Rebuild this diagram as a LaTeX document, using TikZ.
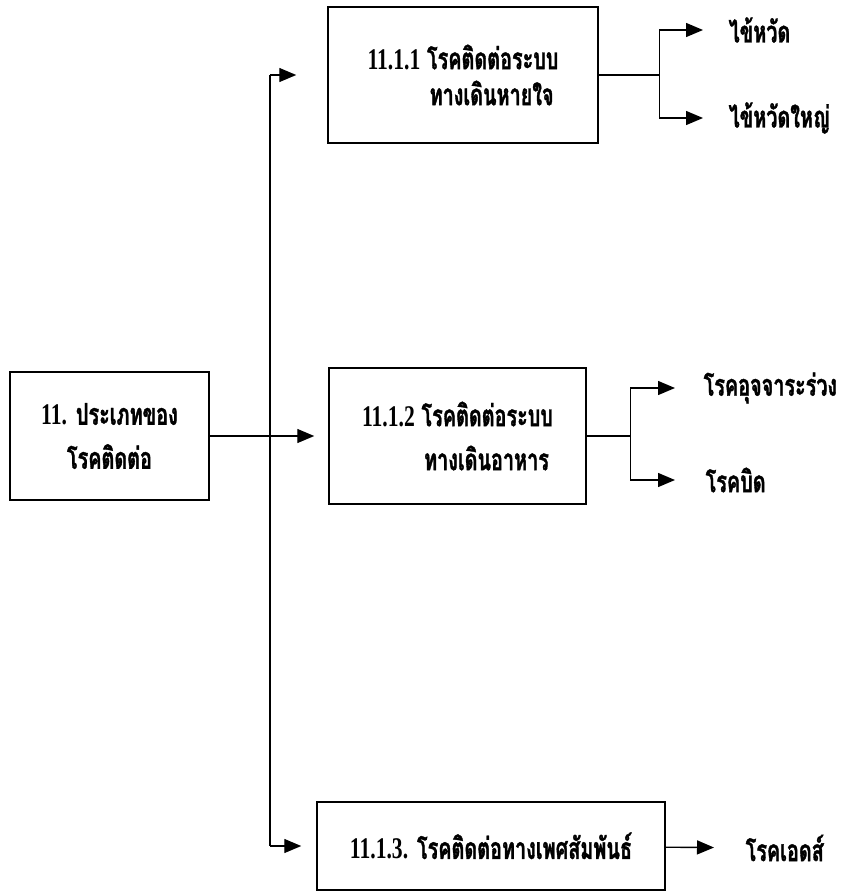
\documentclass[tikz,border=0pt]{standalone}
\usepackage{fontspec}
\newfontfamily\thaifont[Script=Thai,FakeStretch=0.66,BoldFeatures={FakeBold=1.2}]{Loma}
\newfontfamily\numfont[FakeStretch=0.72]{Liberation Serif}
\newcommand\secno[1]{{\numfont #1}}
\usetikzlibrary{arrows.meta}
\begin{document}
\begin{tikzpicture}[x=1pt, y=-1pt, line width=1.4pt,
  every node/.style={font=\fontsize{30pt}{44pt}\selectfont\bfseries\thaifont},
  box/.style={draw, line width=1.5pt, align=left, inner sep=0pt},
  lbl/.style={anchor=west, inner sep=0pt},
  arr/.style={-{Triangle[length=17pt,width=14pt]}}]
\useasboundingbox (0,0) rectangle (855,892);
% boxes
\node[box, align=center, minimum width=199pt, minimum height=128pt] (main) at (109.5,436) {\secno{11.} ประเภทของ\\โรคติดต่อ};
\node[box, minimum width=270pt, minimum height=136pt, font=\fontsize{30pt}{36pt}\selectfont\bfseries\thaifont] (resp) at (463,75) {\secno{11.1.1} โรคติดต่อระบบ\\\hspace*{62pt}ทางเดินหายใจ};
\node[box, minimum width=257pt, minimum height=136pt] (dige) at (457.5,436) {\secno{11.1.2} โรคติดต่อระบบ\\\hspace*{62pt}ทางเดินอาหาร};
\node[box, minimum width=348pt, minimum height=88pt] (sexd) at (491,846) {\secno{11.1.3.} โรคติดต่อทางเพศสัมพันธ์};
% leaves
\node[lbl] (cold) at (728,30) {ไข้หวัด};
\node[lbl] (flu) at (728,118) {ไข้หวัดใหญ่};
\node[lbl] (diarr) at (703,388) {โรคอุจจาระร่วง};
\node[lbl] (dysen) at (705,480) {โรคบิด};
\node[lbl] (aids) at (745,848) {โรคเอดส์};
\coordinate (tk) at (270,436);
\coordinate (fk1) at ([xshift=61pt]resp.east);
\coordinate (fk2) at ([xshift=44pt]dige.east);
% trunk
\draw (tk |- resp.west) -- (tk |- sexd.west);
\draw[arr, shorten >=31pt] (tk |- resp.west) -- (resp.west);
\draw[arr, shorten >=14pt] (main) -- (dige);
\draw[arr, shorten >=15pt] (tk |- sexd.west) -- (sexd.west);
% branches
\draw (resp.east) -- (fk1);
\draw[arr, shorten >=25pt] (fk1) |- (cold.west);
\draw[arr, shorten >=25pt] (fk1) |- (flu.west);
\draw (dige.east) -- (fk2);
\draw[arr, shorten >=28pt] (fk2) |- (diarr.west);
\draw[arr, shorten >=30pt] (fk2) |- (dysen.west);
\draw[arr, shorten >=31pt] (sexd) -- (aids);
\end{tikzpicture}
\end{document}
